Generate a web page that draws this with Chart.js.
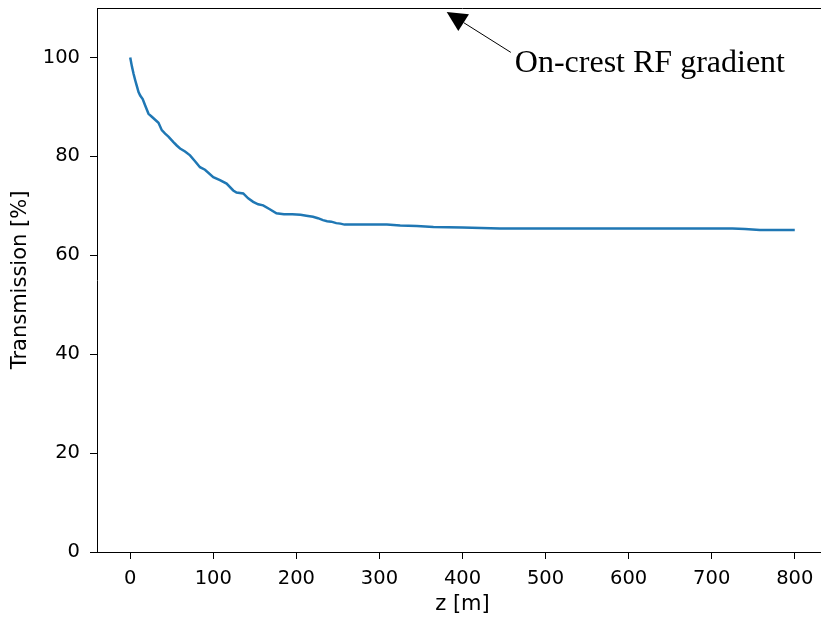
<!DOCTYPE html>
<html>
<head>
<meta charset="utf-8">
<script src="https://cdn.jsdelivr.net/npm/chart.js@4.4.1/dist/chart.umd.min.js"></script>
<style>
  html, body { margin: 0; padding: 0; background: #fff; overflow: hidden; }
  #wrap { width: 821px; height: 617px; overflow: hidden; }
  #wrap div { width: 830px; height: 617px; }
</style>
</head>
<body>
<div id="wrap"><div><canvas id="chart" width="830" height="617"></canvas></div></div>
<script>
// positions along the linac [m]
const zPos = [0, 2, 4, 6, 8, 10, 12, 15, 18, 22, 26, 30, 34, 38, 42, 46, 52, 56, 60, 66,
    72, 78, 84, 90, 100, 108, 116, 124, 128, 136, 142, 148, 154, 160, 168, 176, 185, 195,
    205, 212, 220, 226, 232, 237, 242, 248, 253, 258, 270, 290, 309, 325, 345, 365, 400,
    445, 500, 600, 700, 725, 740, 758, 780, 800];
// transmission [%]
const transmission = [100, 98.2, 96.7, 95.4, 94.2, 93.0, 92.3, 91.6, 90.3, 88.6, 88.0, 87.4,
    86.8, 85.3, 84.6, 84.0, 82.9, 82.2, 81.6, 81.0, 80.2, 79.0, 77.8, 77.3, 75.8, 75.2, 74.5,
    73.1, 72.7, 72.5, 71.5, 70.8, 70.3, 70.1, 69.3, 68.5, 68.3, 68.3, 68.2, 68.0, 67.8, 67.5,
    67.1, 66.9, 66.8, 66.5, 66.4, 66.2, 66.2, 66.2, 66.2, 66.0, 65.9, 65.7, 65.6, 65.4, 65.4,
    65.4, 65.4, 65.4, 65.3, 65.1, 65.1, 65.1];

const xTicks = [0, 100, 200, 300, 400, 500, 600, 700, 800];
const yTicks = [0, 20, 40, 60, 80, 100];

// annotation: arrow tip and label anchor, in data units
const noteText = 'On-crest RF gradient';
const noteTip = { x: 381, y: 109.2 };
const noteLabel = { x: 463, y: 98.8 };

const pontos = zPos.map((z, i) => ({ x: z, y: transmission[i] }));

const fonteTicks = { family: 'DejaVu Sans', size: 19.5 };
const fonteTitulo = { family: 'DejaVu Sans', size: 21 };

// moldura de cima + anotação com seta
const extras = {
    id: 'extras',
    afterDraw(chart) {
        const ctx = chart.ctx;
        const a = chart.chartArea;
        const sx = chart.scales.x, sy = chart.scales.y;
        ctx.save();
        ctx.strokeStyle = '#000';
        ctx.lineWidth = 1;
        ctx.beginPath();
        ctx.moveTo(a.left, a.top + 0.5);
        ctx.lineTo(a.right, a.top + 0.5);
        ctx.lineTo(a.right, a.bottom);
        ctx.stroke();

        const tx = sx.getPixelForValue(noteTip.x), ty = sy.getPixelForValue(noteTip.y);
        const lx = sx.getPixelForValue(noteLabel.x), ly = sy.getPixelForValue(noteLabel.y);
        // linha da seta
        const sxl = lx - 4, syl = ly - 11;
        const ang = Math.atan2(ty - syl, tx - sxl);
        const headLen = 20, headW = 10;
        const bx = tx - headLen * Math.cos(ang), by = ty - headLen * Math.sin(ang);
        ctx.beginPath();
        ctx.moveTo(sxl, syl);
        ctx.lineTo(bx, by);
        ctx.stroke();
        ctx.fillStyle = '#000';
        ctx.beginPath();
        ctx.moveTo(tx, ty);
        ctx.lineTo(bx + headW * Math.sin(ang), by - headW * Math.cos(ang));
        ctx.lineTo(bx - headW * Math.sin(ang), by + headW * Math.cos(ang));
        ctx.closePath();
        ctx.fill();

        ctx.font = '32px "Liberation Serif"';
        ctx.textAlign = 'left';
        ctx.textBaseline = 'middle';
        ctx.fillText(noteText, lx, ly);
        ctx.restore();
    }
};

new Chart(document.getElementById('chart').getContext('2d'), {
    type: 'line',
    data: {
        datasets: [{
            data: pontos,
            borderColor: '#1f77b4',
            borderWidth: 2.5,
            pointRadius: 0,
            tension: 0,
            fill: false
        }]
    },
    options: {
        responsive: false,
        animation: false,
        layout: { padding: { top: 8, right: 2, left: 0, bottom: 0 } },
        plugins: { legend: { display: false }, tooltip: { enabled: false } },
        scales: {
            x: {
                type: 'linear',
                min: -40,
                max: 840,
                afterBuildTicks: s => { s.ticks = xTicks.map(v => ({ value: v })); },
                afterFit: s => { s.height = 65; s.paddingLeft = 0; s.paddingRight = 0; },
                grid: { drawOnChartArea: false, drawTicks: true, tickLength: 7, tickColor: '#000' },
                border: { display: true, color: '#000', width: 1 },
                ticks: { color: '#000', font: fonteTicks, padding: 8, maxRotation: 0 },
                title: { display: true, text: 'z [m]', color: '#000', font: fonteTitulo, padding: { top: 2, bottom: 0 } }
            },
            y: {
                min: 0,
                max: 110,
                afterBuildTicks: s => { s.ticks = yTicks.map(v => ({ value: v })); },
                afterFit: s => { s.width = 97; s.paddingTop = 0; s.paddingBottom = 0; },
                grid: { drawOnChartArea: false, drawTicks: true, tickLength: 7, tickColor: '#000' },
                border: { display: true, color: '#000', width: 1 },
                ticks: { color: '#000', font: fonteTicks, padding: 10 },
                title: { display: true, text: 'Transmission [%]', color: '#000', font: fonteTitulo, padding: { top: 8, bottom: 4 } }
            }
        }
    },
    plugins: [extras]
});
</script>
</body>
</html>
